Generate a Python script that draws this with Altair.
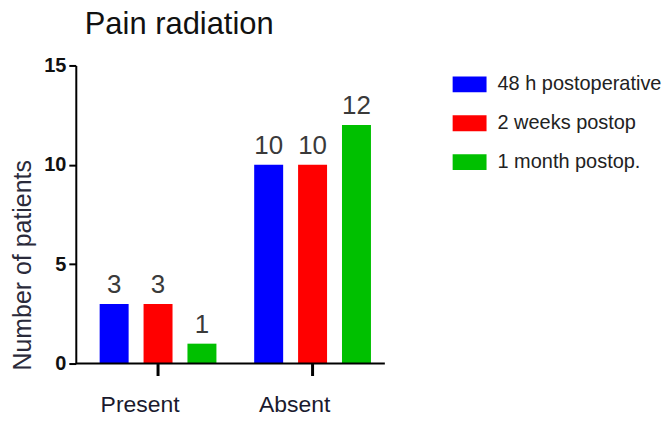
import altair as alt
import pandas as pd

categories = ["Present", "Absent"]
series = ["48 h postoperative", "2 weeks postop", "1 month postop."]
values_48h = [3, 10]
values_2w = [3, 10]
values_1m = [1, 12]
colors = ["#0000FF", "#FF0000", "#00C000"]
y_ticks = [0, 5, 10, 15]

rows = []
for s, vals in zip(series, [values_48h, values_2w, values_1m]):
    for c, v in zip(categories, vals):
        rows.append({"category": c, "series": s, "value": v})
df = pd.DataFrame(rows)

FONT = "Liberation Sans"

x = alt.X("category:N", sort=categories, title=None,
          scale=alt.Scale(paddingInner=0, paddingOuter=0, range=[5, 315]),
          axis=alt.Axis(domain=False, tickColor="black", tickWidth=3, tickSize=12,
                        labelAngle=0, labelFont=FONT, labelFontSize=23,
                        labelColor="#1a1a2e", labelPadding=18, labelOffset=-18))
xo = alt.XOffset("series:N", sort=series,
                 scale=alt.Scale(paddingInner=0.34, paddingOuter=0.43))
y = alt.Y("value:Q", title="Number of patients",
          scale=alt.Scale(domain=[0, 15], nice=False),
          axis=alt.Axis(values=y_ticks, grid=False, domainColor="black", domainWidth=2,
                        tickColor="black", tickWidth=2, tickSize=7,
                        labelFont=FONT, labelFontSize=20, labelFontWeight="bold",
                        labelColor="#111", labelPadding=3,
                        titleFont=FONT, titleFontSize=25, titleFontWeight="normal",
                        titleColor="#2a2a3a", titleAngle=-90, titleX=-53,
                        titleY=200, titleAlign="center", titleBaseline="middle"))
color = alt.Color("series:N", sort=series,
                  scale=alt.Scale(domain=series, range=colors),
                  legend=alt.Legend(title=None, orient="none", legendX=378, legendY=2,
                                    symbolType="M-1,-0.47H1V0.47H-1Z", symbolSize=1156,
                                    symbolStrokeWidth=0, symbolOpacity=1,
                                    labelFont=FONT, labelFontSize=20, labelColor="#222",
                                    labelOffset=11, rowPadding=12, padding=0,
                                    labelLimit=300))

bars = alt.Chart(df).mark_bar(opacity=1).encode(x=x, xOffset=xo, y=y, color=color)
labels = alt.Chart(df).mark_text(baseline="alphabetic", dy=-11, font=FONT, fontSize=26,
                                 color="#3a3a3a").encode(
    x=x, xOffset=xo, y=y, text="value:Q")
base = alt.Chart(pd.DataFrame({"v": [0]})).mark_rule(color="black", strokeWidth=2).encode(
    y=alt.Y("v:Q", scale=alt.Scale(domain=[0, 15], nice=False)))

chart = alt.layer(bars, labels, base).properties(
    width=310, height=299,
    title=alt.TitleParams("Pain radiation", anchor="start", frame="group", font=FONT,
                          fontSize=31, fontWeight="normal", color="#111", dx=9,
                          offset=15),
    autosize=alt.AutoSizeParams(type="none"),
    padding={"left": 68, "top": 57, "right": 280, "bottom": 54},
).configure_view(stroke=None)

chart.save("out.html", embed_options={"renderer": "svg", "actions": False})
